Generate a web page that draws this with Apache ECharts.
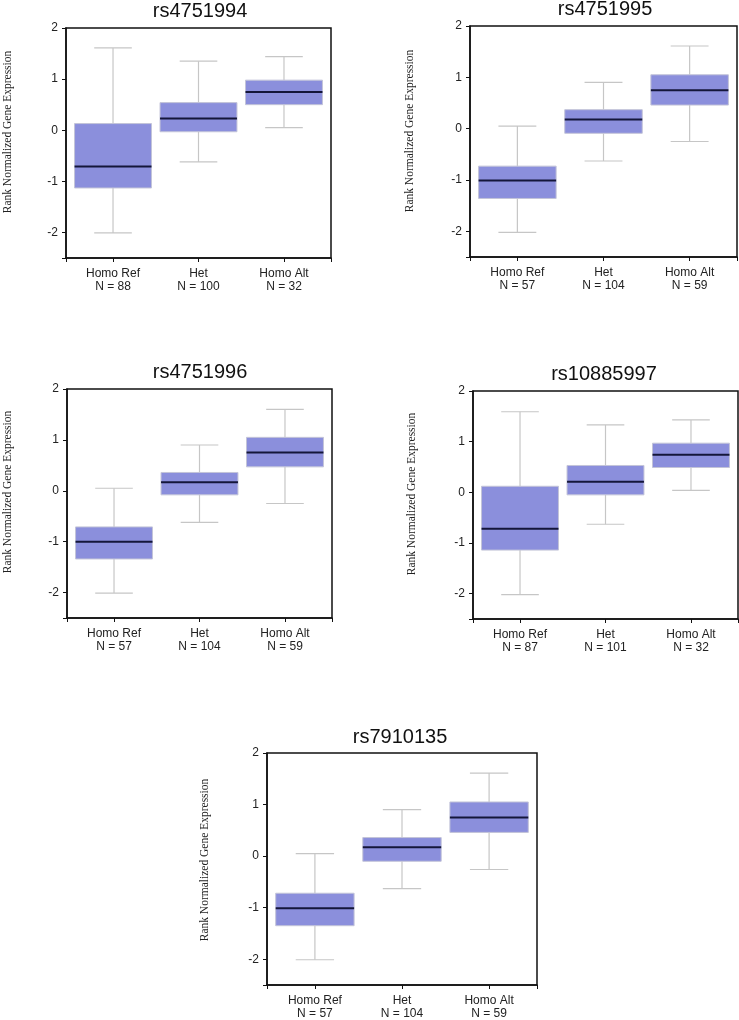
<!DOCTYPE html>
<html>
<head>
<meta charset="utf-8">
<script src="https://cdn.jsdelivr.net/npm/echarts@6/dist/echarts.min.js"></script>
<style>
html,body{margin:0;padding:0;background:#fff;}
#chart{width:739px;height:1020px;}
</style>
</head>
<body>
<div id="chart"></div>
<script>
// ---- data ----
const snps = ['rs4751994', 'rs4751995', 'rs4751996', 'rs10885997', 'rs7910135'];
const genotypes = ['Homo Ref', 'Het', 'Homo Alt'];
const sampleCounts = [[88, 100, 32], [57, 104, 59], [57, 104, 59], [87, 101, 32], [57, 104, 59]];
// per panel, per genotype
const whiskerLow = [[-2.01, -0.62, 0.05], [-2.02, -0.63, -0.25], [-2.01, -0.62, -0.25], [-2.02, -0.63, 0.04], [-2.01, -0.63, -0.26]];
const quartile1 = [[-1.13, -0.03, 0.50], [-1.36, -0.09, 0.46], [-1.34, -0.08, 0.47], [-1.14, -0.05, 0.49], [-1.35, -0.10, 0.46]];
const medians = [[-0.71, 0.23, 0.75], [-1.01, 0.18, 0.75], [-1.00, 0.17, 0.75], [-0.72, 0.21, 0.74], [-1.01, 0.17, 0.75]];
const quartile3 = [[0.13, 0.54, 0.98], [-0.73, 0.37, 1.05], [-0.71, 0.36, 1.05], [0.12, 0.53, 0.97], [-0.72, 0.36, 1.05]];
const whiskerHigh = [[1.61, 1.35, 1.44], [0.05, 0.90, 1.61], [0.05, 0.90, 1.60], [1.59, 1.33, 1.43], [0.05, 0.90, 1.61]];
const yTickLabels = [-2, -1, 0, 1, 2];
const yTickMarks = [-2.5, -2, -1, 0, 1, 2];
const yLabel = 'Rank Normalized Gene Expression';

// ---- layout ----
const panels = [
  { left: 66, top: 28, width: 265, height: 230, titleX: 200, titleY: 11, ylabX: 8, ylabY: 132 },
  { left: 470, top: 26, width: 267, height: 231, titleX: 605, titleY: 9, ylabX: 410, ylabY: 131 },
  { left: 67, top: 389, width: 265, height: 229, titleX: 200, titleY: 372, ylabX: 8, ylabY: 492 },
  { left: 473, top: 391, width: 265, height: 228, titleX: 604, titleY: 374, ylabX: 412, ylabY: 494 },
  { left: 267, top: 753, width: 270, height: 234, titleX: 400, titleY: 737, ylabX: 205, ylabY: 860 }
];
const xMin = -0.55, xMax = 2.55;

const chart = echarts.init(document.getElementById('chart'), null, { renderer: 'canvas' });

const grids = [], xAxes = [], yAxes = [], series = [], graphics = [];

panels.forEach(function (p, i) {
  grids.push({
    left: p.left, top: p.top, width: p.width, height: p.height,
    show: true, borderColor: '#111', borderWidth: 1.5, backgroundColor: '#fff'
  });
  xAxes.push({
    type: 'value', gridIndex: i, min: xMin, max: xMax,
    axisLine: { show: true, onZero: false, lineStyle: { color: '#111', width: 1.5 } },
    axisTick: { show: true, length: 4, customValues: [xMin, 0, 1, 2, xMax], lineStyle: { color: '#111' } },
    axisLabel: {
      customValues: [0, 1, 2],
      margin: 9,
      color: '#222', fontSize: 12, fontFamily: 'Arial, "Liberation Sans", sans-serif',
      lineHeight: 13,
      formatter: function (v) {
        const k = Math.round(v);
        return genotypes[k] + '\nN = ' + sampleCounts[i][k];
      }
    },
    splitLine: { show: false }
  });
  yAxes.push({
    type: 'value', gridIndex: i, min: -2.5, max: 2,
    axisLine: { show: true, onZero: false, lineStyle: { color: '#111', width: 1.5 } },
    axisTick: { show: true, length: 4, customValues: yTickMarks, lineStyle: { color: '#111' } },
    axisLabel: {
      customValues: yTickLabels, margin: 8,
      color: '#222', fontSize: 12, fontFamily: 'Arial, "Liberation Sans", sans-serif'
    },
    splitLine: { show: false }
  });
  const data = genotypes.map(function (g, k) {
    return [k, whiskerLow[i][k], quartile1[i][k], medians[i][k], quartile3[i][k], whiskerHigh[i][k]];
  });
  series.push({
    type: 'custom',
    xAxisIndex: i, yAxisIndex: i,
    encode: { x: 0, y: [1, 2, 3, 4, 5] },
    data: data,
    renderItem: function (params, api) {
      const x = api.value(0);
      const low = api.coord([x, api.value(1)]);
      const q1 = api.coord([x, api.value(2)]);
      const med = api.coord([x, api.value(3)]);
      const q3 = api.coord([x, api.value(4)]);
      const high = api.coord([x, api.value(5)]);
      const cx = low[0];
      const halfBox = api.size([0.45, 0])[0];
      const halfCap = api.size([0.22, 0])[0];
      const wStyle = { stroke: '#c6c6c6', lineWidth: 1.2 };
      return {
        type: 'group',
        children: [
          { type: 'line', shape: { x1: cx, y1: q3[1], x2: cx, y2: high[1] }, style: wStyle },
          { type: 'line', shape: { x1: cx, y1: q1[1], x2: cx, y2: low[1] }, style: wStyle },
          { type: 'line', shape: { x1: cx - halfCap, y1: high[1], x2: cx + halfCap, y2: high[1] }, style: wStyle },
          { type: 'line', shape: { x1: cx - halfCap, y1: low[1], x2: cx + halfCap, y2: low[1] }, style: wStyle },
          { type: 'rect', shape: { x: cx - halfBox, y: q3[1], width: halfBox * 2, height: q1[1] - q3[1] },
            style: { fill: '#8b8fdc', stroke: '#c3c4d8', lineWidth: 1 } },
          { type: 'line', shape: { x1: cx - halfBox, y1: med[1], x2: cx + halfBox, y2: med[1] },
            style: { stroke: '#14163a', lineWidth: 2 } }
        ]
      };
    }
  });
  graphics.push({
    type: 'text', x: p.titleX, y: p.titleY,
    style: { text: snps[i], font: '20px Arial, "Liberation Sans", sans-serif', fill: '#111', align: 'center', verticalAlign: 'middle' }
  });
  graphics.push({
    type: 'text', x: p.ylabX, y: p.ylabY, rotation: Math.PI / 2,
    style: { text: yLabel, font: '11.5px "Times New Roman", "Liberation Serif", serif', fill: '#222', align: 'center', verticalAlign: 'middle' }
  });
});

chart.setOption({
  animation: false,
  backgroundColor: '#fff',
  grid: grids,
  xAxis: xAxes,
  yAxis: yAxes,
  series: series,
  graphic: graphics
});
</script>
</body>
</html>
